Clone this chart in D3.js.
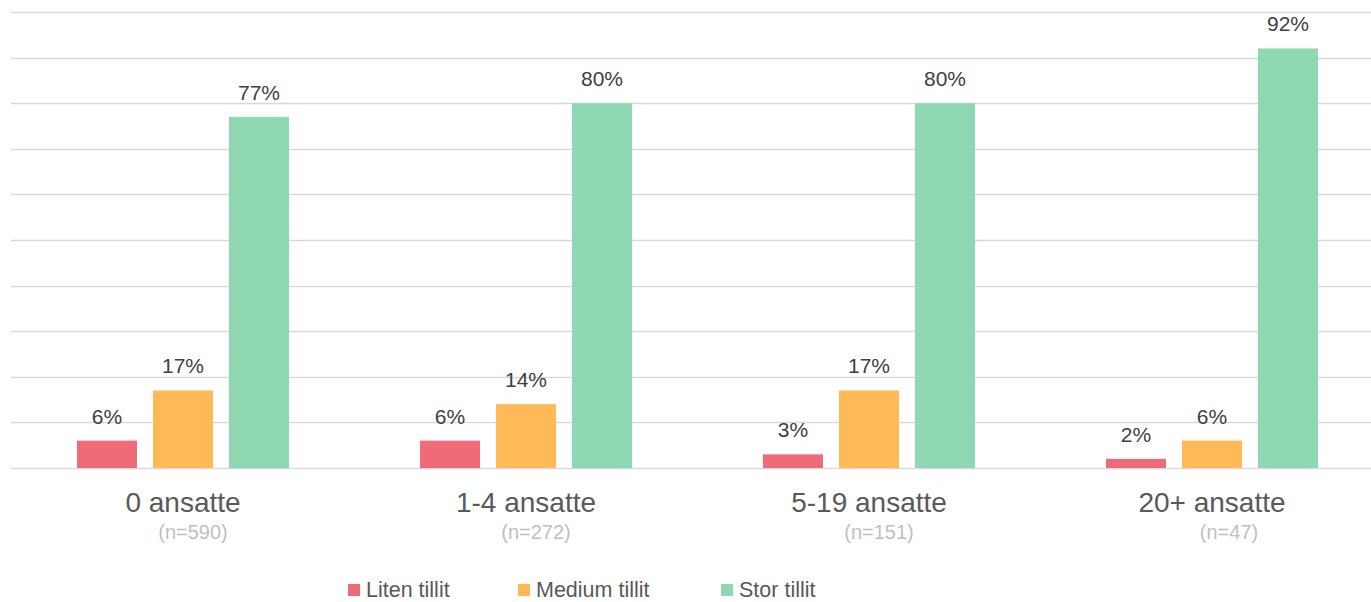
<!DOCTYPE html>
<html lang="en">
<head>
<meta charset="UTF-8">
<title>Tillit etter antall ansatte</title>
<style>
  html, body { margin: 0; padding: 0; background: #fff; }
  svg { display: block; font-family: "Liberation Sans", Arial, sans-serif; }
</style>
</head>
<body>
<svg></svg>
<script src="https://cdn.jsdelivr.net/npm/d3@7/dist/d3.min.js"></script>
<script>
    // data
    const groups = ["0 ansatte", "1-4 ansatte", "5-19 ansatte", "20+ ansatte"];
    const nLabels = ["(n=590)", "(n=272)", "(n=151)", "(n=47)"];
    const series = ["Liten tillit", "Medium tillit", "Stor tillit"];
    const liten = [0.06, 0.06, 0.03, 0.02];
    const medium = [0.17, 0.14, 0.17, 0.06];
    const stor = [0.77, 0.80, 0.80, 0.92];
    const gridTicks = [0, 0.1, 0.2, 0.3, 0.4, 0.5, 0.6, 0.7, 0.8, 0.9, 1.0];

    const colors = ["#f06b7a", "#ffb957", "#8ed9b3"];
    const values = [liten, medium, stor];

    const width = 1371, height = 602;

    const svg = d3.select("svg")
        .attr("width", width)
        .attr("height", height);

    const x0 = d3.scaleBand()
        .domain(groups)
        .range([11.5, 11.5 + 343 * 4]);

    const x1 = d3.scaleBand()
        .domain(series)
        .range([0, 212])
        .paddingInner(16 / 76);

    const y = d3.scaleLinear()
        .domain([0, 1])
        .range([468, 12]);

    // grid
    svg.append("g")
        .attr("stroke", "#d9d9d9")
        .attr("stroke-width", 1.5)
        .selectAll("line")
        .data(gridTicks)
        .join("line")
        .attr("x1", 11)
        .attr("x2", width)
        .attr("y1", d => Math.round(y(d)) + 0.5)
        .attr("y2", d => Math.round(y(d)) + 0.5);

    const group = svg.append("g")
        .selectAll("g")
        .data(groups)
        .join("g")
        .attr("transform", g => `translate(${x0(g) + x0.bandwidth() / 2 - 106},0)`);

    const cells = group.selectAll("g")
        .data((g, i) => series.map((s, j) => ({s, j, v: values[j][i]})))
        .join("g");

    cells.append("rect")
        .attr("x", d => x1(d.s))
        .attr("width", x1.bandwidth())
        .attr("y", d => y(d.v))
        .attr("height", d => y(0) - y(d.v))
        .attr("fill", d => colors[d.j]);

    cells.append("text")
        .attr("x", d => x1(d.s) + x1.bandwidth() / 2)
        .attr("y", d => y(d.v) - 17)
        .attr("text-anchor", "middle")
        .attr("font-size", 21)
        .attr("fill", "#404040")
        .text(d => d3.format(".0%")(d.v));

    // category labels
    const cat = svg.append("g")
        .attr("text-anchor", "middle")
        .selectAll("g")
        .data(groups)
        .join("g")
        .attr("transform", g => `translate(${x0(g) + x0.bandwidth() / 2},0)`);

    cat.append("text")
        .attr("y", 512)
        .attr("font-size", 28)
        .attr("fill", "#595959")
        .text(g => g);

    cat.append("text")
        .attr("x", (g, i) => i === 3 ? 17 : 10)
        .attr("y", 539)
        .attr("font-size", 20)
        .attr("fill", "#bfbfbf")
        .text((g, i) => nLabels[i]);

    // legend
    const legendX = [348, 518, 721];
    const legend = svg.append("g")
        .selectAll("g")
        .data(series)
        .join("g")
        .attr("transform", (d, i) => `translate(${legendX[i]},584)`);

    legend.append("rect")
        .attr("width", 12)
        .attr("height", 12)
        .attr("fill", (d, i) => colors[i]);

    legend.append("text")
        .attr("x", 18)
        .attr("y", 13)
        .attr("font-size", 21.5)
        .attr("fill", "#595959")
        .text(d => d);
</script>
</body>
</html>
